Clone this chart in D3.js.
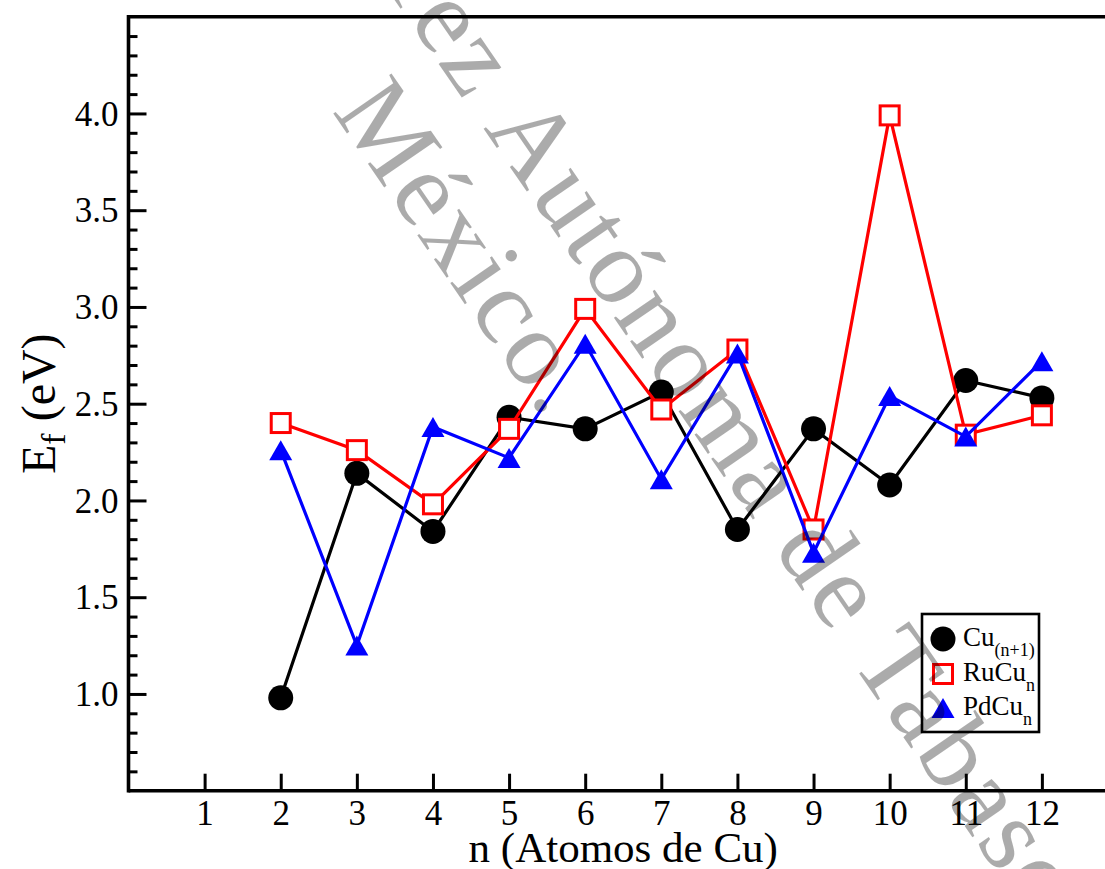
<!DOCTYPE html>
<html>
<head>
<meta charset="utf-8">
<script src="https://cdn.jsdelivr.net/npm/d3@7"></script>
<style>
  html, body { margin: 0; padding: 0; background: #fff; }
  svg { display: block; }
</style>
</head>
<body>
<svg id="chart" width="1105" height="869"></svg>
<script>
// ---- Data ----
const nValues   = [2, 3, 4, 5, 6, 7, 8, 9, 10, 11, 12];
const cuValues  = [0.98, 2.14, 1.84, 2.43, 2.37, 2.56, 1.85, 2.37, 2.08, 2.62, 2.53];
const ruValues  = [2.40, 2.26, 1.98, 2.37, 2.99, 2.47, 2.78, 1.85, 3.99, 2.34, 2.44];
const pdValues  = [2.26, 1.25, 2.38, 2.22, 2.81, 2.11, 2.76, 1.73, 2.54, 2.33, 2.72];
const xTickValues = [1, 2, 3, 4, 5, 6, 7, 8, 9, 10, 11, 12];
const yTickValues = [1.0, 1.5, 2.0, 2.5, 3.0, 3.5, 4.0];
const seriesNames = ["Cu", "RuCu", "PdCu"];
const seriesSubs  = ["(n+1)", "n", "n"];
const xTitle = "n (Atomos de Cu)";
const watermarkLine1a = "Universidad Juárez";
const watermarkLine1b = "Autónoma de Tabasco";
const watermarkLine2 = "México.";

(function () {
// ---- Layout ----
const svg = d3.select("#chart");
const pL = 128.5, pR = 1118, pT = 16.7, pB = 790.7;
const x = d3.scaleLinear().domain([0, 13]).range([pL, pR]);
const y = d3.scaleLinear().domain([0.5, 4.5]).range([pB, pT]);
const serif = "'Liberation Serif', 'Times New Roman', serif";

// ---- Axes ----
const yMinor = d3.range(6, 45).map(v => v / 10).filter(v => Math.abs(v * 2 - Math.round(v * 2)) > 1e-6);
const yAxis = d3.axisLeft(y).tickValues(yTickValues).tickFormat(d3.format(".1f")).tickSizeInner(-18).tickSizeOuter(0).tickPadding(28);
const gy = svg.append("g").attr("transform", `translate(${pL},0)`).call(yAxis);
gy.select(".domain").remove();
gy.selectAll(".tick line").attr("stroke", "#000").attr("stroke-width", 3);
gy.selectAll(".tick text").attr("font-family", serif).attr("font-size", 35).attr("fill", "#000").attr("dy", "0.33em").attr("x", -10);

const yAxisMinor = d3.axisLeft(y).tickValues(yMinor).tickFormat("").tickSizeInner(-9).tickSizeOuter(0);
const gym = svg.append("g").attr("transform", `translate(${pL},0)`).call(yAxisMinor);
gym.select(".domain").remove();
gym.selectAll(".tick line").attr("stroke", "#000").attr("stroke-width", 3);

const xAxis = d3.axisBottom(x).tickValues(xTickValues).tickFormat(d3.format("d")).tickSizeInner(-17).tickSizeOuter(0).tickPadding(0);
const gx = svg.append("g").attr("transform", `translate(0,${pB})`).call(xAxis);
gx.select(".domain").remove();
gx.selectAll(".tick line").attr("stroke", "#000").attr("stroke-width", 3);
gx.selectAll(".tick text").attr("font-family", serif).attr("font-size", 35).attr("fill", "#000").attr("y", 34).attr("dy", 0);

// frame lines
svg.append("line").attr("x1", pL).attr("x2", pL).attr("y1", pT - 1.7).attr("y2", pB + 1.7).attr("stroke", "#000").attr("stroke-width", 3.6);
svg.append("line").attr("x1", pL).attr("x2", pR).attr("y1", pB).attr("y2", pB).attr("stroke", "#000").attr("stroke-width", 3.6);
svg.append("line").attr("x1", pL).attr("x2", pR).attr("y1", pT).attr("y2", pT).attr("stroke", "#000").attr("stroke-width", 3.6);
svg.append("line").attr("x1", pR).attr("x2", pR).attr("y1", pT).attr("y2", pB).attr("stroke", "#000").attr("stroke-width", 3.6);

// axis titles
svg.append("text").attr("x", (pL + pR) / 2).attr("y", 862).attr("text-anchor", "middle")
  .attr("font-family", serif).attr("font-size", 43).attr("fill", "#000").text(xTitle);

const yt = svg.append("text").attr("transform", `translate(55,${(pT + pB) / 2}) rotate(-90)`)
  .attr("text-anchor", "middle").attr("font-family", serif).attr("font-size", 48).attr("fill", "#000");
yt.append("tspan").text("E");
yt.append("tspan").attr("font-size", 34).attr("dy", 10).text("f");
yt.append("tspan").attr("dy", -10).text(" (eV)");

// ---- Series ----
const triPath = "M0,-10L11.5,10L-11.5,10Z";
const series = [
  { vals: cuValues, color: "#000000", kind: "circle" },
  { vals: ruValues, color: "#ff0000", kind: "square" },
  { vals: pdValues, color: "#0000ff", kind: "triangle" }
];
const line = d3.line().x(d => x(d[0])).y(d => y(d[1]));

function drawMarker(g, kind, color, cx, cy) {
  if (kind === "circle") {
    g.append("circle").attr("cx", cx).attr("cy", cy).attr("r", 12.5).attr("fill", color);
  } else if (kind === "square") {
    g.append("rect").attr("x", cx - 9.5).attr("y", cy - 9.5).attr("width", 19).attr("height", 19)
      .attr("fill", "#fff").attr("stroke", color).attr("stroke-width", 3);
  } else {
    g.append("path").attr("d", triPath).attr("transform", `translate(${cx},${cy})`).attr("fill", color);
  }
}

series.forEach(s => {
  const pts = nValues.map((n, i) => [n, s.vals[i]]);
  const g = svg.append("g");
  g.append("path").attr("d", line(pts)).attr("fill", "none").attr("stroke", s.color).attr("stroke-width", 3.2).attr("stroke-linejoin", "miter");
  pts.forEach(p => drawMarker(g, s.kind, s.color, x(p[0]), y(p[1])));
});

// ---- Legend ----
const lg = svg.append("g");
lg.append("rect").attr("x", 922).attr("y", 614).attr("width", 117).attr("height", 118)
  .attr("fill", "#fff").attr("stroke", "#000").attr("stroke-width", 2.6);
const legendRowY = [639, 674, 708];
series.forEach((s, i) => {
  drawMarker(lg, s.kind, s.color, 943, legendRowY[i]);
  const t = lg.append("text").attr("x", 963).attr("y", legendRowY[i] + 7).attr("font-family", serif)
    .attr("font-size", 27).attr("fill", "#000");
  t.append("tspan").text(seriesNames[i]);
  t.append("tspan").attr("font-size", 18).attr("dy", 10).text(seriesSubs[i]);
});

// ---- Watermark ----
const wm = svg.append("g").attr("transform", "translate(483,128) rotate(55.4)")
  .attr("font-family", serif).attr("font-size", 108).attr("letter-spacing", 3)
  .attr("fill", "#000").attr("fill-opacity", 0.33);
wm.append("text").attr("x", -30).attr("y", 0).attr("text-anchor", "end").text(watermarkLine1a);
wm.append("text").attr("x", 0).attr("y", 0).attr("text-anchor", "start").text(watermarkLine1b);
wm.append("text").attr("x", -100).attr("y", 115).attr("text-anchor", "start").text(watermarkLine2);
})();
</script>
</body>
</html>
